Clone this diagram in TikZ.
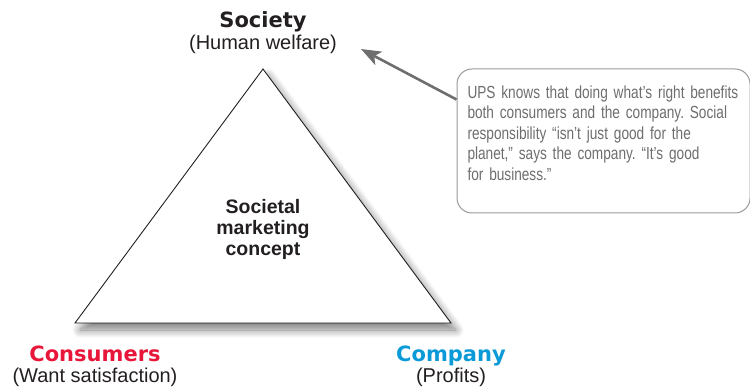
\documentclass[tikz,border=0pt]{standalone}
\usepackage{fontspec}
\setmainfont{Liberation Sans}
\newfontfamily\headfont{DejaVu Sans}
\newfontfamily\notefont[FakeStretch=0.78]{Liberation Sans}
\usetikzlibrary{arrows.meta, positioning, shadows.blur}
\frenchspacing

\definecolor{inkdark}{HTML}{231F20}
\definecolor{consred}{HTML}{E8173A}
\definecolor{compblue}{HTML}{0A9AD7}
\definecolor{notegray}{HTML}{6E6E6E}
\definecolor{framegray}{HTML}{9A9A9A}

\begin{document}
\begin{tikzpicture}[
    x=1pt, y=-1pt,
    heading/.style={font=\headfont\bfseries\fontsize{21}{22}\selectfont, inner sep=0pt, anchor=base},
    sub/.style={font=\fontsize{20}{22}\selectfont, color=inkdark, inner sep=0pt, anchor=base},
    core/.style={font=\bfseries\fontsize{19.5}{21}\selectfont, color=inkdark, align=center, inner sep=0pt},
    triangle/.style={fill=white,
        blur shadow={shadow xshift=5pt, shadow yshift=-7pt, shadow blur radius=8pt,
        shadow blur steps=12, shadow opacity=50}},
    callout/.style={
        rectangle, draw=framegray, line width=1pt, rounded corners=15pt,
        fill=white, minimum width=293pt, minimum height=144pt,
        text width=272pt, inner xsep=10.5pt, align=left, text=notegray,
        font=\notefont\fontsize{17.5}{20.5}\selectfont
    },
    pointer/.style={line width=2.6pt, color=notegray, -{Stealth[length=20pt, width=15pt, inset=5pt]}}
]
    \useasboundingbox (0,0) rectangle (750,387);
    % Triangle corners
    \coordinate (apex) at (263,69);
    \coordinate (baseL) at (75,323);
    \coordinate (baseR) at (451,323);
    \path[triangle] (apex) -- (baseL) -- (baseR) -- cycle;
    \draw[inkdark, line width=0.9pt, line join=miter] (apex) -- (baseL) -- (baseR) -- cycle;
    \node (concept) [core] at (263,229) {Societal\\marketing\\concept};
    % Corner labels
    \node (society) [heading, color=inkdark] at (263,28) {Society};
    \node (welfare) [sub] at (263,50) {(Human welfare)};
    \node (consumers) [heading, color=consred] at (95,362) {Consumers};
    \node (want) [sub] at (95,383) {(Want satisfaction)};
    \node (company) [heading, color=compblue] at (451,362) {Company};
    \node (profits) [sub] at (451,383) {(Profits)};
    % Callout
    \node (note) [callout] at (603.5,141) {UPS knows that doing what’s right benefits\\
        both consumers and the company. Social\\
        responsibility “isn’t just good for the\\
        planet,” says the company. “It’s good\\
        for business.”\\[-4pt]\mbox{}};
    \coordinate (tip) at (361,49);
    \draw [pointer] ([yshift=-31pt]note.north west) -- (tip);
\end{tikzpicture}
\end{document}
